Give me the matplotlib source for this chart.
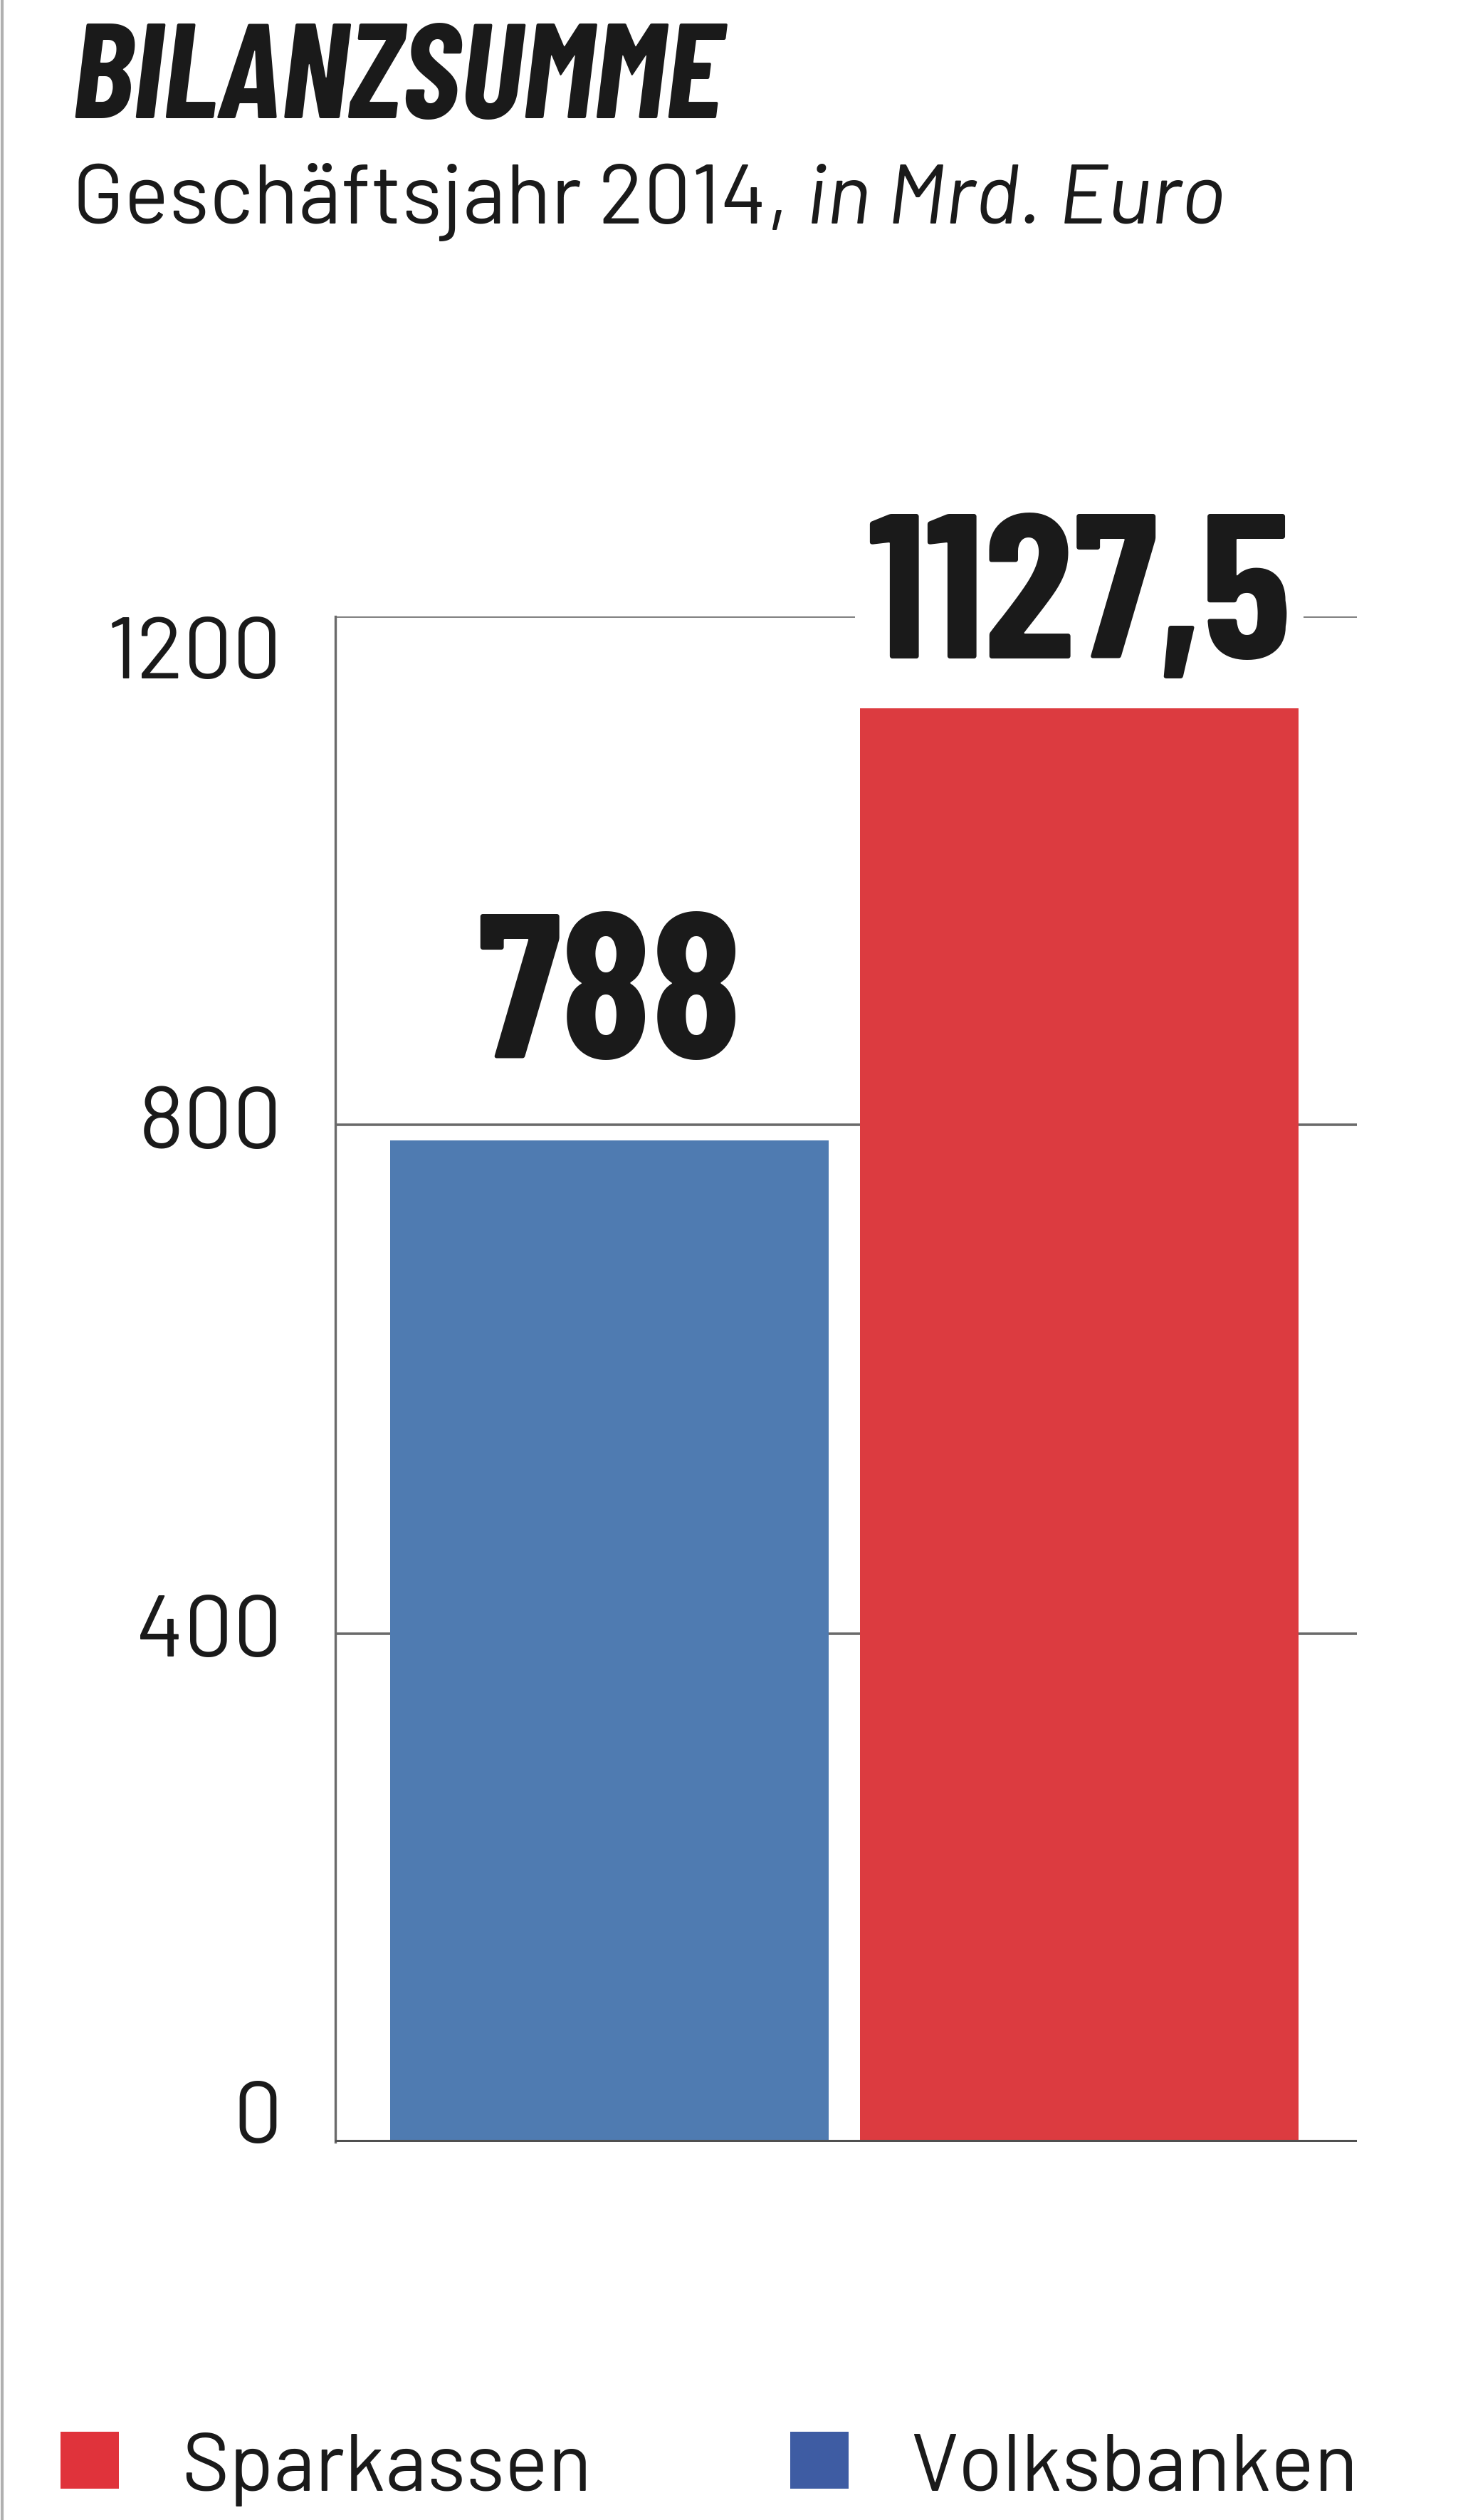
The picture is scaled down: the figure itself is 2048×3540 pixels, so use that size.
import matplotlib
matplotlib.use("Agg")
import matplotlib.pyplot as plt
from matplotlib.patches import Rectangle
from matplotlib.lines import Line2D

# ---- data ----
categories = ["Volksbanken", "Sparkassen"]
values = [788, 1127.5]
value_labels = ["788", "1127,5"]
yticks = [0, 400, 800, 1200]
ytick_labels = ["0", "400", "800", "1200"]
legend_labels = ["Sparkassen", "Volksbanken"]

title = "BILANZSUMME"
subtitle_regular = "Geschäftsjahr 2014, "
subtitle_italic = "in Mrd. Euro"

# ---- style ----
BLUE = "#4f7bb1"
RED = "#dc3b40"
LEG_BLUE = "#3e5ca3"
LEG_RED = "#e0333b"
TXT = "#1a1a1a"
GRID = "#6a6a6a"
COND = ["Barlow Condensed", "DejaVu Sans"]
REG = ["Barlow", "DejaVu Sans"]

W, H, DPI = 2048, 3541, 200
fig = plt.figure(figsize=(W / DPI, H / DPI), dpi=DPI, facecolor="white")

def fx(px):
    return px / W

def fy(py):
    return 1 - py / H

ax = fig.add_axes([fx(471), fy(3010), fx(1906) - fx(471), fy(867) - fy(3010)])
ax.set_facecolor("white")
ax.set_ylim(0, 1200)
ax.set_xlim(-0.583, 1.591)

bar_colors = [BLUE, RED]
x = list(range(len(categories)))
ax.bar(x, values, width=0.933, color=bar_colors, zorder=2, linewidth=0)

# gridlines
for t in yticks[1:]:
    ax.axhline(t, color=GRID, lw=1.3, zorder=1)
ax.axhline(0, color="#505050", lw=2.2, zorder=3)

for s in ["top", "right", "bottom"]:
    ax.spines[s].set_visible(False)
ax.spines["left"].set_color(GRID)
ax.spines["left"].set_linewidth(1.2)
ax.spines["left"].set_bounds(0, 1200)

ax.set_xticks([])
ax.set_yticks(yticks)
ax.set_yticklabels(ytick_labels, family=REG, fontsize=44, color=TXT)
ax.tick_params(axis="y", length=0, pad=27)
vas = {"0": "baseline", "400": "center", "800": "center", "1200": "top"}
for lab in ax.get_yticklabels():
    lab.set_verticalalignment(vas.get(lab.get_text(), "center"))

# value labels
offsets = [65, 40]
for i, (v, lab) in enumerate(zip(values, value_labels)):
    ax.text(x[i], v + offsets[i], lab, ha="center", va="baseline",
            family=COND, fontweight="bold", fontsize=104, color=TXT,
            zorder=5, clip_on=False,
            bbox=dict(facecolor="white", edgecolor="none", pad=6))

# title & subtitle
fig.text(fx(100), fy(166), title, family=COND, fontweight="bold",
         fontstyle="italic", fontsize=68, color=TXT, ha="left", va="baseline")
t1 = fig.text(fx(102), fy(314), subtitle_regular, family=REG, fontsize=42.5,
              color=TXT, ha="left", va="baseline")
r = fig.canvas.get_renderer()
bb = t1.get_window_extent(renderer=r)
fig.text(bb.x1 / W, fy(314), subtitle_italic, family=REG, fontsize=42.5,
         fontstyle="italic", color=TXT, ha="left", va="baseline")

# legend
leg_colors = [LEG_RED, LEG_BLUE]
sq_x = [85, 1110]
txt_x = [255, 1279]
for c, sx, tx, lab in zip(leg_colors, sq_x, txt_x, legend_labels):
    fig.patches.append(Rectangle((fx(sx), fy(3497)), fx(82), 80 / H,
                                 transform=fig.transFigure, facecolor=c,
                                 edgecolor="none"))
    fig.text(fx(tx), fy(3499), lab, family=REG, fontsize=41, color=TXT,
             ha="left", va="baseline")

# left border line
fig.lines.append(Line2D([fx(3), fx(3)], [0, 1], transform=fig.transFigure,
                        color="#b0b0b0", lw=1.5))

fig.savefig("out.png", dpi=DPI, facecolor="white")
